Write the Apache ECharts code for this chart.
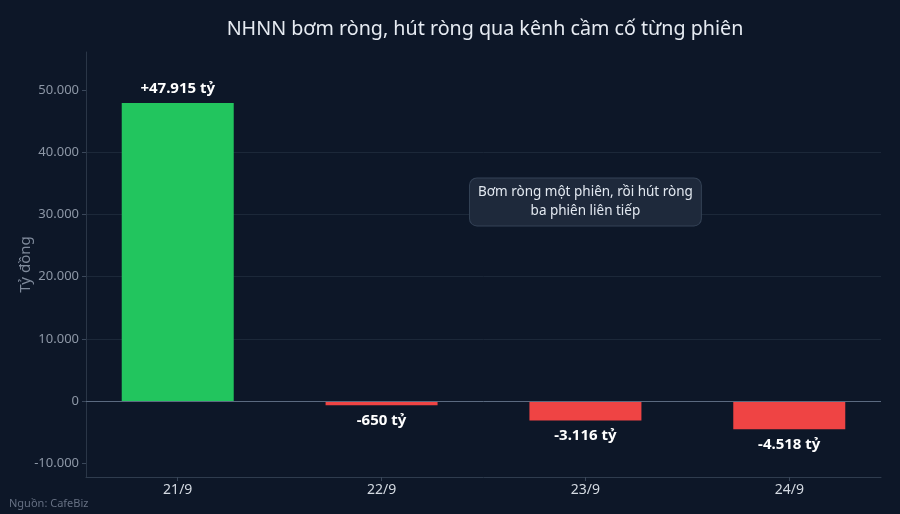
<!DOCTYPE html>
<html>
<head>
<meta charset="utf-8">
<script src="https://cdn.jsdelivr.net/npm/echarts@6/dist/echarts.min.js"></script>
<style>
html,body{margin:0;padding:0;background:#0d1728;}
#c{width:900px;height:514px;}
</style>
</head>
<body>
<div id="c"></div>
<script>
const categories = ['21/9', '22/9', '23/9', '24/9'];
const values = [47915, -650, -3116, -4518];
const yTicks = [-10000, 0, 10000, 20000, 30000, 40000, 50000];
const noteText = 'Bơm ròng một phiên, rồi hút ròng\nba phiên liên tiếp';
const noteAt = [2, 32000];

function fmt(v) {
  const s = Math.abs(Math.round(v)).toString().replace(/\B(?=(\d{3})+(?!\d))/g, '.');
  return (v < 0 ? '-' : '') + s;
}

const chart = echarts.init(document.getElementById('c'), null, {renderer: 'canvas'});
const FONT = '"Noto Sans", "Open Sans", sans-serif';

const barData = values.map((v, i) => ({
  value: [i, v],
  itemStyle: {color: v >= 0 ? '#22c55e' : '#ef4444'},
  label: {position: v >= 0 ? 'top' : 'bottom', distance: v >= 0 ? 7 : 8}
}));

chart.setOption({
  backgroundColor: '#0d1728',
  textStyle: {fontFamily: FONT},
  title: {
    text: 'NHNN bơm ròng, hút ròng qua kênh cầm cố từng phiên',
    left: 480, top: 14, textAlign: 'center',
    textStyle: {color: '#e6ebf2', fontSize: 19.7, fontWeight: 'normal', fontFamily: FONT}
  },
  graphic: [{
    type: 'text', left: 9, top: 498,
    style: {text: 'Nguồn: CafeBiz', fill: '#667083', fontSize: 11, fontFamily: FONT}
  }],
  grid: {left: 86, right: 19, top: 52, bottom: 37},
  xAxis: {
    type: 'value', min: -0.45, max: 3.45,
    axisLine: {show: true, onZero: false, lineStyle: {color: '#2f3c4e', width: 1}},
    axisTick: {show: true, customValues: categories.map((c, i) => i), length: 4, lineStyle: {color: '#3a475a'}},
    axisLabel: {
      customValues: categories.map((c, i) => i),
      formatter: v => categories[Math.round(v)] || '',
      color: '#d3d9e1', fontSize: 14, margin: 6, fontFamily: FONT
    },
    splitLine: {show: false}
  },
  yAxis: {
    type: 'value', min: -12200, max: 56100, splitNumber: 7,
    name: 'Tỷ đồng', nameLocation: 'middle', nameGap: 53, nameMoveOverlap: false,
    nameTextStyle: {color: '#7f8a9b', fontSize: 15, fontFamily: FONT},
    axisLine: {show: true, onZero: false, lineStyle: {color: '#2a3647', width: 1}},
    axisTick: {show: true, customValues: yTicks, length: 4, lineStyle: {color: '#3a475a'}},
    axisLabel: {
      customValues: yTicks,
      formatter: v => fmt(v), color: '#8d97a6', fontSize: 13, margin: 7, fontFamily: FONT
    },
    splitLine: {show: true, showMinLine: false, showMaxLine: false, lineStyle: {color: '#1c2839', width: 1}}
  },
  series: [{
    type: 'bar',
    data: barData,
    barWidth: 112,
    label: {
      show: true,
      formatter: p => (p.value[1] > 0 ? '+' : '') + fmt(p.value[1]) + ' tỷ',
      color: '#ffffff', fontSize: 15, fontWeight: 'bold', fontFamily: FONT
    },
    markLine: {
      silent: true, symbol: 'none',
      label: {show: false},
      lineStyle: {color: '#5b6a80', type: 'solid', width: 1},
      data: [{yAxis: 0}]
    },
    markPoint: {
      silent: true,
      symbol: 'rect', symbolSize: 0,
      data: [{coord: noteAt, value: noteText}],
      label: {
        show: true, position: 'inside',
        formatter: noteText,
        color: '#e2e8f0', fontSize: 13.5, lineHeight: 19, fontFamily: FONT,
        align: 'center', verticalAlign: 'middle',
        backgroundColor: '#1e293b', borderColor: '#344256', borderWidth: 1,
        borderRadius: 7, padding: [5, 8, 4, 8]
      }
    }
  }]
});
</script>
</body>
</html>
